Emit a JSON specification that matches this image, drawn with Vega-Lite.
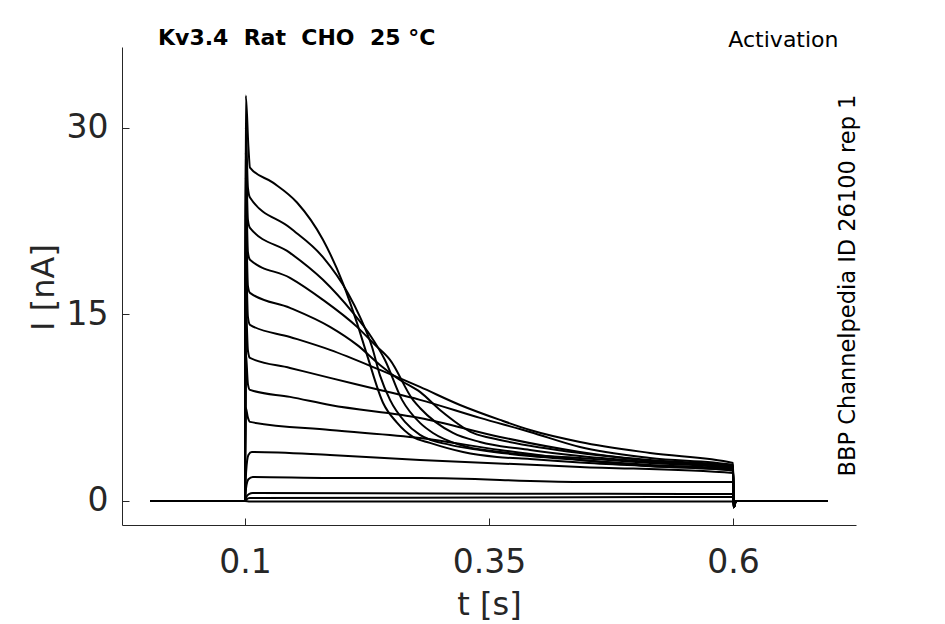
{
  "$schema": "https://vega.github.io/schema/vega-lite/v6.json",
  "width": 734,
  "height": 478,
  "autosize": {"type": "none"},
  "padding": {"left": 122, "top": 47, "right": 89, "bottom": 99},
  "background": "white",
  "title": {
    "text": "Kv3.4\u00a0 Rat\u00a0 CHO\u00a0 25 °C",
    "anchor": "start",
    "frame": "group",
    "dx": 36,
    "offset": -39,
    "baseline": "alphabetic",
    "font": "DejaVu Sans",
    "fontSize": 22,
    "fontWeight": "bold",
    "color": "#000000"
  },
  "datasets": {
    "sweeps": [
      {"s": "A", "t": 0.003, "i": 0}, {"s": "A", "t": 0.1, "i": 0}, {"s": "A", "t": 0.1008, "i": 32.6}, {"s": "A", "t": 0.1035, "i": 28.5},
      {"s": "A", "t": 0.1051, "i": 26.8}, {"s": "A", "t": 0.1287, "i": 25.6}, {"s": "A", "t": 0.1533, "i": 24.0}, {"s": "A", "t": 0.1799, "i": 21.0},
      {"s": "A", "t": 0.2004, "i": 17.5}, {"s": "A", "t": 0.2148, "i": 14.3}, {"s": "A", "t": 0.225, "i": 11.75}, {"s": "A", "t": 0.2414, "i": 7.9},
      {"s": "A", "t": 0.2557, "i": 6.3}, {"s": "A", "t": 0.2721, "i": 5.15}, {"s": "A", "t": 0.2895, "i": 4.67}, {"s": "A", "t": 0.3234, "i": 3.94},
      {"s": "A", "t": 0.3582, "i": 3.54}, {"s": "A", "t": 0.392, "i": 3.38}, {"s": "A", "t": 0.4432, "i": 3.1}, {"s": "A", "t": 0.515, "i": 2.8},
      {"s": "A", "t": 0.6, "i": 2.45}, {"s": "A", "t": 0.6008, "i": -0.5}, {"s": "A", "t": 0.603, "i": 0}, {"s": "A", "t": 0.697, "i": 0},

      {"s": "B", "t": 0.003, "i": 0}, {"s": "B", "t": 0.1, "i": 0}, {"s": "B", "t": 0.1008, "i": 30}, {"s": "B", "t": 0.103, "i": 25.2},
      {"s": "B", "t": 0.1051, "i": 24.4}, {"s": "B", "t": 0.1461, "i": 21.96}, {"s": "B", "t": 0.1799, "i": 19.6}, {"s": "B", "t": 0.2055, "i": 16.7},
      {"s": "B", "t": 0.2178, "i": 14.8}, {"s": "B", "t": 0.2301, "i": 12.4}, {"s": "B", "t": 0.2383, "i": 10.1}, {"s": "B", "t": 0.2486, "i": 8.13},
      {"s": "B", "t": 0.2639, "i": 6.36}, {"s": "B", "t": 0.2793, "i": 5.31}, {"s": "B", "t": 0.31, "i": 4.51}, {"s": "B", "t": 0.3408, "i": 4.1},
      {"s": "B", "t": 0.392, "i": 3.62}, {"s": "B", "t": 0.4432, "i": 3.3}, {"s": "B", "t": 0.515, "i": 2.9}, {"s": "B", "t": 0.6, "i": 2.57},
      {"s": "B", "t": 0.6008, "i": -0.5}, {"s": "B", "t": 0.603, "i": 0}, {"s": "B", "t": 0.697, "i": 0},

      {"s": "C", "t": 0.003, "i": 0}, {"s": "C", "t": 0.1, "i": 0}, {"s": "C", "t": 0.1008, "i": 28}, {"s": "C", "t": 0.103, "i": 22.6},
      {"s": "C", "t": 0.1051, "i": 21.96}, {"s": "C", "t": 0.1461, "i": 19.95}, {"s": "C", "t": 0.1799, "i": 17.78}, {"s": "C", "t": 0.2107, "i": 15.12},
      {"s": "C", "t": 0.2281, "i": 13.35}, {"s": "C", "t": 0.2434, "i": 11.34}, {"s": "C", "t": 0.2609, "i": 8.13}, {"s": "C", "t": 0.2793, "i": 6.28},
      {"s": "C", "t": 0.2926, "i": 5.47}, {"s": "C", "t": 0.3203, "i": 4.51}, {"s": "C", "t": 0.3613, "i": 3.94}, {"s": "C", "t": 0.4432, "i": 3.46},
      {"s": "C", "t": 0.515, "i": 3.06}, {"s": "C", "t": 0.6, "i": 2.65}, {"s": "C", "t": 0.6008, "i": -0.5}, {"s": "C", "t": 0.603, "i": 0},
      {"s": "C", "t": 0.697, "i": 0},

      {"s": "D", "t": 0.003, "i": 0}, {"s": "D", "t": 0.1, "i": 0}, {"s": "D", "t": 0.1008, "i": 26}, {"s": "D", "t": 0.103, "i": 20.0},
      {"s": "D", "t": 0.1051, "i": 19.39}, {"s": "D", "t": 0.1461, "i": 17.94}, {"s": "D", "t": 0.1799, "i": 16.17}, {"s": "D", "t": 0.2148, "i": 14.0},
      {"s": "D", "t": 0.2332, "i": 12.55}, {"s": "D", "t": 0.2486, "i": 11.34}, {"s": "D", "t": 0.2721, "i": 8.13}, {"s": "D", "t": 0.2793, "i": 7.48},
      {"s": "D", "t": 0.3131, "i": 5.47}, {"s": "D", "t": 0.3408, "i": 4.75}, {"s": "D", "t": 0.392, "i": 4.1}, {"s": "D", "t": 0.4432, "i": 3.62},
      {"s": "D", "t": 0.515, "i": 3.14}, {"s": "D", "t": 0.6, "i": 2.74}, {"s": "D", "t": 0.6008, "i": -0.5}, {"s": "D", "t": 0.603, "i": 0},
      {"s": "D", "t": 0.697, "i": 0},

      {"s": "E", "t": 0.003, "i": 0}, {"s": "E", "t": 0.1, "i": 0}, {"s": "E", "t": 0.1008, "i": 23}, {"s": "E", "t": 0.103, "i": 17.3},
      {"s": "E", "t": 0.1051, "i": 16.73}, {"s": "E", "t": 0.1461, "i": 15.53}, {"s": "E", "t": 0.1871, "i": 14.0}, {"s": "E", "t": 0.2148, "i": 12.55},
      {"s": "E", "t": 0.2383, "i": 10.94}, {"s": "E", "t": 0.2588, "i": 9.73}, {"s": "E", "t": 0.2793, "i": 8.77}, {"s": "E", "t": 0.2998, "i": 7.32},
      {"s": "E", "t": 0.3336, "i": 5.47}, {"s": "E", "t": 0.3613, "i": 4.91}, {"s": "E", "t": 0.4432, "i": 3.86}, {"s": "E", "t": 0.515, "i": 3.3},
      {"s": "E", "t": 0.6, "i": 2.82}, {"s": "E", "t": 0.6008, "i": -0.5}, {"s": "E", "t": 0.603, "i": 0}, {"s": "E", "t": 0.697, "i": 0},

      {"s": "F", "t": 0.003, "i": 0}, {"s": "F", "t": 0.1, "i": 0}, {"s": "F", "t": 0.1008, "i": 20}, {"s": "F", "t": 0.103, "i": 14.8},
      {"s": "F", "t": 0.1051, "i": 14.16}, {"s": "F", "t": 0.1461, "i": 13.19}, {"s": "F", "t": 0.1871, "i": 12.15}, {"s": "F", "t": 0.2383, "i": 10.54},
      {"s": "F", "t": 0.2793, "i": 9.17}, {"s": "F", "t": 0.3203, "i": 7.72}, {"s": "F", "t": 0.3613, "i": 6.52}, {"s": "F", "t": 0.392, "i": 5.71},
      {"s": "F", "t": 0.4432, "i": 4.75}, {"s": "F", "t": 0.515, "i": 3.86}, {"s": "F", "t": 0.6, "i": 3.06}, {"s": "F", "t": 0.6008, "i": -0.5},
      {"s": "F", "t": 0.603, "i": 0}, {"s": "F", "t": 0.697, "i": 0},

      {"s": "G", "t": 0.003, "i": 0}, {"s": "G", "t": 0.1, "i": 0}, {"s": "G", "t": 0.1008, "i": 16}, {"s": "G", "t": 0.103, "i": 12.1},
      {"s": "G", "t": 0.1051, "i": 11.5}, {"s": "G", "t": 0.1461, "i": 10.7}, {"s": "G", "t": 0.1871, "i": 9.9}, {"s": "G", "t": 0.2383, "i": 8.93},
      {"s": "G", "t": 0.2793, "i": 8.13}, {"s": "G", "t": 0.3408, "i": 6.68}, {"s": "G", "t": 0.392, "i": 5.55}, {"s": "G", "t": 0.4432, "i": 4.34},
      {"s": "G", "t": 0.515, "i": 3.46}, {"s": "G", "t": 0.6, "i": 2.9}, {"s": "G", "t": 0.6008, "i": -0.5}, {"s": "G", "t": 0.603, "i": 0},
      {"s": "G", "t": 0.697, "i": 0},

      {"s": "H", "t": 0.003, "i": 0}, {"s": "H", "t": 0.1, "i": 0}, {"s": "H", "t": 0.1008, "i": 12}, {"s": "H", "t": 0.103, "i": 9.4},
      {"s": "H", "t": 0.1051, "i": 8.93}, {"s": "H", "t": 0.1461, "i": 8.37}, {"s": "H", "t": 0.1871, "i": 7.72}, {"s": "H", "t": 0.2793, "i": 6.68},
      {"s": "H", "t": 0.3613, "i": 5.15}, {"s": "H", "t": 0.4432, "i": 3.94}, {"s": "H", "t": 0.515, "i": 3.22}, {"s": "H", "t": 0.6, "i": 2.7},
      {"s": "H", "t": 0.6008, "i": -0.5}, {"s": "H", "t": 0.603, "i": 0}, {"s": "H", "t": 0.697, "i": 0},

      {"s": "I", "t": 0.003, "i": 0}, {"s": "I", "t": 0.1, "i": 0}, {"s": "I", "t": 0.1008, "i": 7.5}, {"s": "I", "t": 0.103, "i": 6.7},
      {"s": "I", "t": 0.1051, "i": 6.36}, {"s": "I", "t": 0.1871, "i": 5.71}, {"s": "I", "t": 0.2793, "i": 5.07}, {"s": "I", "t": 0.3613, "i": 4.1},
      {"s": "I", "t": 0.4432, "i": 3.3}, {"s": "I", "t": 0.515, "i": 2.82}, {"s": "I", "t": 0.6, "i": 2.45}, {"s": "I", "t": 0.6008, "i": -0.5},
      {"s": "I", "t": 0.603, "i": 0}, {"s": "I", "t": 0.697, "i": 0},

      {"s": "J", "t": 0.003, "i": 0}, {"s": "J", "t": 0.1, "i": 0}, {"s": "J", "t": 0.1012, "i": 2.4}, {"s": "J", "t": 0.1035, "i": 3.7},
      {"s": "J", "t": 0.107, "i": 3.94}, {"s": "J", "t": 0.1871, "i": 3.7}, {"s": "J", "t": 0.2793, "i": 3.3}, {"s": "J", "t": 0.4432, "i": 2.74},
      {"s": "J", "t": 0.6, "i": 2.25}, {"s": "J", "t": 0.6008, "i": -0.5}, {"s": "J", "t": 0.603, "i": 0}, {"s": "J", "t": 0.697, "i": 0},

      {"s": "K", "t": 0.003, "i": 0}, {"s": "K", "t": 0.1, "i": 0}, {"s": "K", "t": 0.1012, "i": 1.1}, {"s": "K", "t": 0.1035, "i": 1.75},
      {"s": "K", "t": 0.108, "i": 1.93}, {"s": "K", "t": 0.1871, "i": 1.85}, {"s": "K", "t": 0.2793, "i": 1.85}, {"s": "K", "t": 0.4432, "i": 1.53},
      {"s": "K", "t": 0.6, "i": 1.53}, {"s": "K", "t": 0.6008, "i": -0.5}, {"s": "K", "t": 0.603, "i": 0}, {"s": "K", "t": 0.697, "i": 0},

      {"s": "L", "t": 0.003, "i": 0}, {"s": "L", "t": 0.1, "i": 0}, {"s": "L", "t": 0.1012, "i": 0.3}, {"s": "L", "t": 0.104, "i": 0.56},
      {"s": "L", "t": 0.108, "i": 0.64}, {"s": "L", "t": 0.3, "i": 0.6}, {"s": "L", "t": 0.6, "i": 0.56}, {"s": "L", "t": 0.6008, "i": -0.5},
      {"s": "L", "t": 0.603, "i": 0}, {"s": "L", "t": 0.697, "i": 0},

      {"s": "M", "t": 0.003, "i": 0}, {"s": "M", "t": 0.1, "i": 0}, {"s": "M", "t": 0.1012, "i": 0.1}, {"s": "M", "t": 0.105, "i": 0.24},
      {"s": "M", "t": 0.35, "i": 0.28}, {"s": "M", "t": 0.6, "i": 0.32}, {"s": "M", "t": 0.6008, "i": -0.5}, {"s": "M", "t": 0.603, "i": 0},
      {"s": "M", "t": 0.697, "i": 0},

      {"s": "N", "t": 0.003, "i": 0}, {"s": "N", "t": 0.1, "i": 0}, {"s": "N", "t": 0.105, "i": -0.05}, {"s": "N", "t": 0.6, "i": -0.05},
      {"s": "N", "t": 0.6008, "i": -0.5}, {"s": "N", "t": 0.603, "i": 0}, {"s": "N", "t": 0.697, "i": 0}
    ]
  },
  "data": {"name": "sweeps"},
  "layer": [
    {
      "mark": {"type": "line", "color": "#000000", "strokeWidth": 2, "strokeJoin": "round", "interpolate": "monotone", "clip": true},
      "encoding": {
        "x": {
          "field": "t", "type": "quantitative",
          "scale": {"domain": [-0.026, 0.726], "nice": false, "zero": false},
          "axis": {
            "values": [0.1, 0.35, 0.6], "format": ".2~f", "title": "t [s]",
            "tickSize": -7, "labelPadding": 28,
            "titleY": 89, "titleBaseline": "alphabetic"
          }
        },
        "y": {
          "field": "i", "type": "quantitative",
          "scale": {"domain": [-1.93, 36.5], "nice": false, "zero": false},
          "axis": {
            "values": [0, 15, 30], "title": "I [nA]",
            "tickSize": -7, "labelPadding": 21,
            "titleAngle": 270, "titleX": -69, "titleY": 240, "titleBaseline": "alphabetic", "titleAlign": "center"
          }
        },
        "detail": {"field": "s", "type": "nominal"}
      }
    },
    {
      "mark": {"type": "line", "strokeOpacity": 0},
      "encoding": {
        "x": {
          "field": "t", "type": "quantitative",
          "axis": {
            "orient": "top", "domain": false, "ticks": false, "labels": false,
            "title": "Activation", "titleFontSize": 22, "titleColor": "#000000",
            "titleX": 716, "titleY": -1, "titleAlign": "right", "titleBaseline": "alphabetic", "titleAnchor": "end"
          }
        },
        "y": {
          "field": "i", "type": "quantitative",
          "axis": {
            "orient": "right", "domain": false, "ticks": false, "labels": false,
            "title": "BBP Channelpedia ID 26100 rep 1", "titleFontSize": 22.5, "titleColor": "#000000",
            "titleAngle": 270, "titleX": -2, "titleY": 238, "titleAlign": "center", "titleBaseline": "alphabetic"
          }
        },
        "detail": {"field": "s", "type": "nominal"}
      }
    }
  ],
  "resolve": {"axis": {"x": "independent", "y": "independent"}},
  "config": {
    "view": {"stroke": null},
    "axis": {
      "grid": false,
      "domainColor": "#262626",
      "domainWidth": 1,
      "tickColor": "#262626",
      "tickWidth": 1,
      "labelFont": "DejaVu Sans",
      "labelFontSize": 33,
      "labelColor": "#262626",
      "titleFont": "DejaVu Sans",
      "titleFontSize": 32,
      "titleFontWeight": "normal",
      "titleColor": "#262626"
    }
  }
}
